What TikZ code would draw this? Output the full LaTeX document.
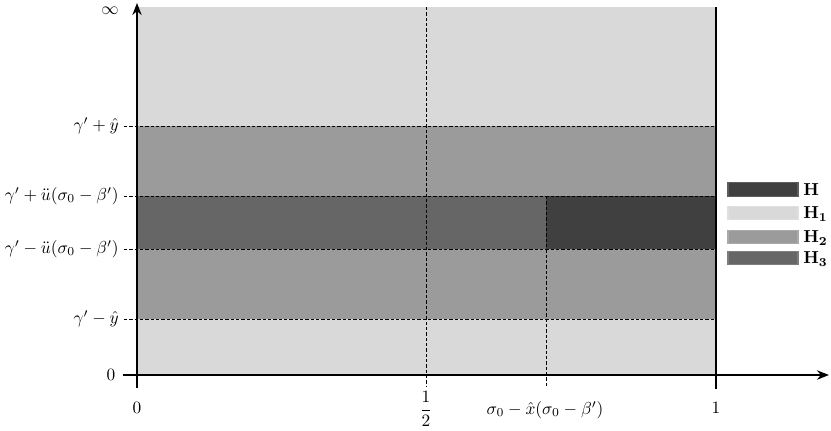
\documentclass[tikz,border=0pt]{standalone}
\usepackage{amsmath}
\usepackage{graphicx}
\usetikzlibrary{arrows.meta}
\definecolor{gOne}{HTML}{D9D9D9}
\definecolor{gTwo}{HTML}{9B9B9B}
\definecolor{gThree}{HTML}{666666}
\definecolor{gH}{HTML}{404040}
\newcommand{\mysc}[1]{\scalebox{1.3}{$#1$}}
\begin{document}
\begin{tikzpicture}[x=0.75pt,y=-0.75pt, font=\normalsize,
  dline/.style={dash pattern=on 2.6pt off 1.4pt, line width=0.6pt},
  axis/.style={line width=1.5pt},
  lab/.style={inner sep=0pt},
  legbox/.style={minimum width=52.5pt, minimum height=10pt, inner sep=0pt, draw=#1!85!white, line width=0.8pt, fill=#1},
  leglab/.style={anchor=west, inner sep=0pt}]
\useasboundingbox (0,0) rectangle (831,430);
% regions
\fill[gOne] (137,7) rectangle (716,375);
\fill[gTwo] (137,126) rectangle (716,319);
\fill[gThree] (137,196) rectangle (546,249);
\fill[gH] (546,196) rectangle (716,249);
% coordinates
\coordinate (yb) at (137,388);
\coordinate (yt) at (137,3);
\coordinate (xl) at (123,375);
\coordinate (xr) at (829,375);
\coordinate (rt) at (716,7);
\coordinate (rb) at (716,389);
\coordinate (ht) at (426,7);
\coordinate (hb) at (426,387);
\coordinate (st) at (546,196);
\coordinate (sb) at (546,387);
\foreach \n/\y in {a/126,b/196,c/249,d/319}{
  \coordinate (\n l) at (124,\y);
  \coordinate (\n r) at (716,\y);
}
% dashed lines
\foreach \n in {a,b,c,d}{ \draw[dline] (\n l) -- (\n r); }
\draw[dline] (ht) -- (hb);
\draw[dline] (st) -- (sb);
% solid lines and axes
\draw[axis] (rt) -- (rb);
\draw[axis,-{Stealth[length=9pt,width=7pt]}] (yb) -- (yt);
\draw[axis,-{Stealth[length=9pt,width=7pt]}] (xl) -- (xr);
% y labels
\node[lab] (inf) at (110,11) {\mysc{\infty}};
\node[lab,anchor=east] (la) at (119,126) {\mysc{\gamma' + \hat{y}}};
\node[lab,anchor=east] (lb) at (119,196) {\mysc{\gamma' + \ddot{u}(\sigma_0 - \beta')}};
\node[lab,anchor=east] (lc) at (119,249) {\mysc{\gamma' - \ddot{u}(\sigma_0 - \beta')}};
\node[lab,anchor=east] (ld) at (119,319) {\mysc{\gamma' - \hat{y}}};
\node[lab] (ly0) at (111,375) {\mysc{0}};
% x labels
\node[lab] (lx0) at (137,408) {\mysc{0}};
\node[lab] (lxh) at (426,409) {\mysc{\dfrac{1}{2}}};
\node[lab] (lxs) at (545,410) {\mysc{\sigma_0 - \hat{x}(\sigma_0 - \beta')}};
\node[lab] (lx1) at (716,408) {\mysc{1}};
% legend
\node[legbox=gH] (kH) at (763,189.5) {};
\node[legbox=gOne] (kH1) at (763,213) {};
\node[legbox=gTwo] (kH2) at (763,237) {};
\node[legbox=gThree] (kH3) at (763,258) {};
\node[leglab] (tH) at (803,189.5) {\mysc{\mathbf{H}}};
\node[leglab] (tH1) at (803,214) {\mysc{\mathbf{H_1}}};
\node[leglab] (tH2) at (803,238) {\mysc{\mathbf{H_2}}};
\node[leglab] (tH3) at (803,259) {\mysc{\mathbf{H_3}}};
\end{tikzpicture}
\end{document}
